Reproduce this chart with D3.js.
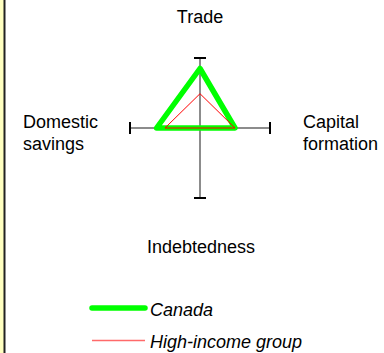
<!DOCTYPE html>
<html>
<head>
<meta charset="utf-8">
<script src="https://cdn.jsdelivr.net/npm/d3@7"></script>
<style>
  body { margin: 0; background: #fff; }
  text { font-family: "Liberation Sans", Arial, sans-serif; fill: #000; }
</style>
</head>
<body>
<div class="vis-container"></div>
<script>
// axes, clockwise from the top
const AXES = ['Trade', 'Capital formation', 'Indebtedness', 'Domestic savings'];
const CANADA = [0.85, 0.5, 0, 0.62];
const HIGH_INCOME = [0.49, 0.5, 0, 0.5];
const SERIES_NAMES = ['Canada', 'High-income group'];

document.addEventListener('DOMContentLoaded', () => {
  buildRadar();
});

function buildRadar() {
  const width = 384;
  const height = 353;
  const cx = 200;
  const cy = 128;
  const radius = 70;

  const svg = d3.select('.vis-container').append('svg')
    .attr('width', width)
    .attr('height', height);

  // left edge strip
  svg.append('rect')
    .attr('x', 0).attr('y', 0)
    .attr('width', 4).attr('height', height)
    .attr('fill', '#ffffc0');
  svg.append('line')
    .attr('x1', 4.5).attr('x2', 4.5)
    .attr('y1', 0).attr('y2', height)
    .attr('stroke', '#222')
    .attr('stroke-width', 2);

  const r = d3.scaleLinear().domain([0, 1]).range([0, radius]);
  const angle = i => i / AXES.length * Math.PI * 2;
  const px = (i, v) => cx + r(v) * Math.sin(angle(i));
  const py = (i, v) => cy - r(v) * Math.cos(angle(i));

  const g = svg.append('g');
  const idx = AXES.map((d, i) => i);

  g.selectAll('.axis').data(idx)
    .enter().append('line')
      .attr('class', 'axis')
      .attr('x1', cx).attr('y1', cy)
      .attr('x2', i => px(i, 1))
      .attr('y2', i => py(i, 1))
      .attr('stroke', '#666')
      .attr('stroke-width', 1.5);

  // end caps
  const cap = 6;
  g.selectAll('.cap').data(idx)
    .enter().append('line')
      .attr('class', 'cap')
      .attr('x1', i => px(i, 1) - cap * Math.cos(angle(i)))
      .attr('x2', i => px(i, 1) + cap * Math.cos(angle(i)))
      .attr('y1', i => py(i, 1) - cap * Math.sin(angle(i)))
      .attr('y2', i => py(i, 1) + cap * Math.sin(angle(i)))
      .attr('stroke', '#000')
      .attr('stroke-width', 2);

  const line = d3.line()
    .x((v, i) => px(i, v))
    .y((v, i) => py(i, v))
    .curve(d3.curveLinearClosed);

  g.append('path')
    .attr('d', line(CANADA))
    .attr('fill', 'none')
    .attr('stroke', '#00ff00')
    .attr('stroke-width', 5.5)
    .attr('stroke-linejoin', 'round');

  g.append('path')
    .attr('d', line(HIGH_INCOME))
    .attr('fill', 'none')
    .attr('stroke', '#ff0000')
    .attr('stroke-width', 1);

  // axis labels
  const fs = 18;
  svg.append('text')
    .attr('x', cx).attr('y', 23)
    .attr('text-anchor', 'middle')
    .style('font-size', fs + 'px')
    .text(AXES[0]);
  svg.append('text')
    .attr('x', cx + 1).attr('y', 253)
    .attr('text-anchor', 'middle')
    .style('font-size', fs + 'px')
    .text(AXES[2]);

  const capT = svg.append('text')
    .attr('x', 303).attr('y', 128)
    .style('font-size', fs + 'px');
  capT.append('tspan').attr('x', 303).text(AXES[1].split(' ')[0]);
  capT.append('tspan').attr('x', 303).attr('dy', 22).text(AXES[1].split(' ')[1]);

  const domT = svg.append('text')
    .attr('x', 23).attr('y', 128)
    .style('font-size', fs + 'px');
  domT.append('tspan').attr('x', 23).text(AXES[3].split(' ')[0]);
  domT.append('tspan').attr('x', 23).attr('dy', 22).text(AXES[3].split(' ')[1]);

  // legend
  const legend = svg.append('g');
  const ly = d3.scalePoint().domain(SERIES_NAMES).range([308, 340.5]);
  const styles = {
    'Canada': {stroke: '#00ff00', w: 5.5},
    'High-income group': {stroke: '#ff6a6a', w: 1.5}
  };
  legend.selectAll('.lg-line').data(SERIES_NAMES)
    .enter().append('line')
      .attr('class', 'lg-line')
      .attr('x1', 92).attr('x2', 145)
      .attr('y1', d => ly(d)).attr('y2', d => ly(d))
      .attr('stroke', d => styles[d].stroke)
      .attr('stroke-width', d => styles[d].w)
      .attr('stroke-linecap', d => styles[d].w > 2 ? 'round' : 'butt');
  legend.selectAll('.lg-text').data(SERIES_NAMES)
    .enter().append('text')
      .attr('class', 'lg-text')
      .attr('x', 150)
      .attr('y', d => ly(d) + 7.5)
      .style('font-size', fs + 'px')
      .style('font-style', 'italic')
      .text(d => d);
}
</script>
</body>
</html>
